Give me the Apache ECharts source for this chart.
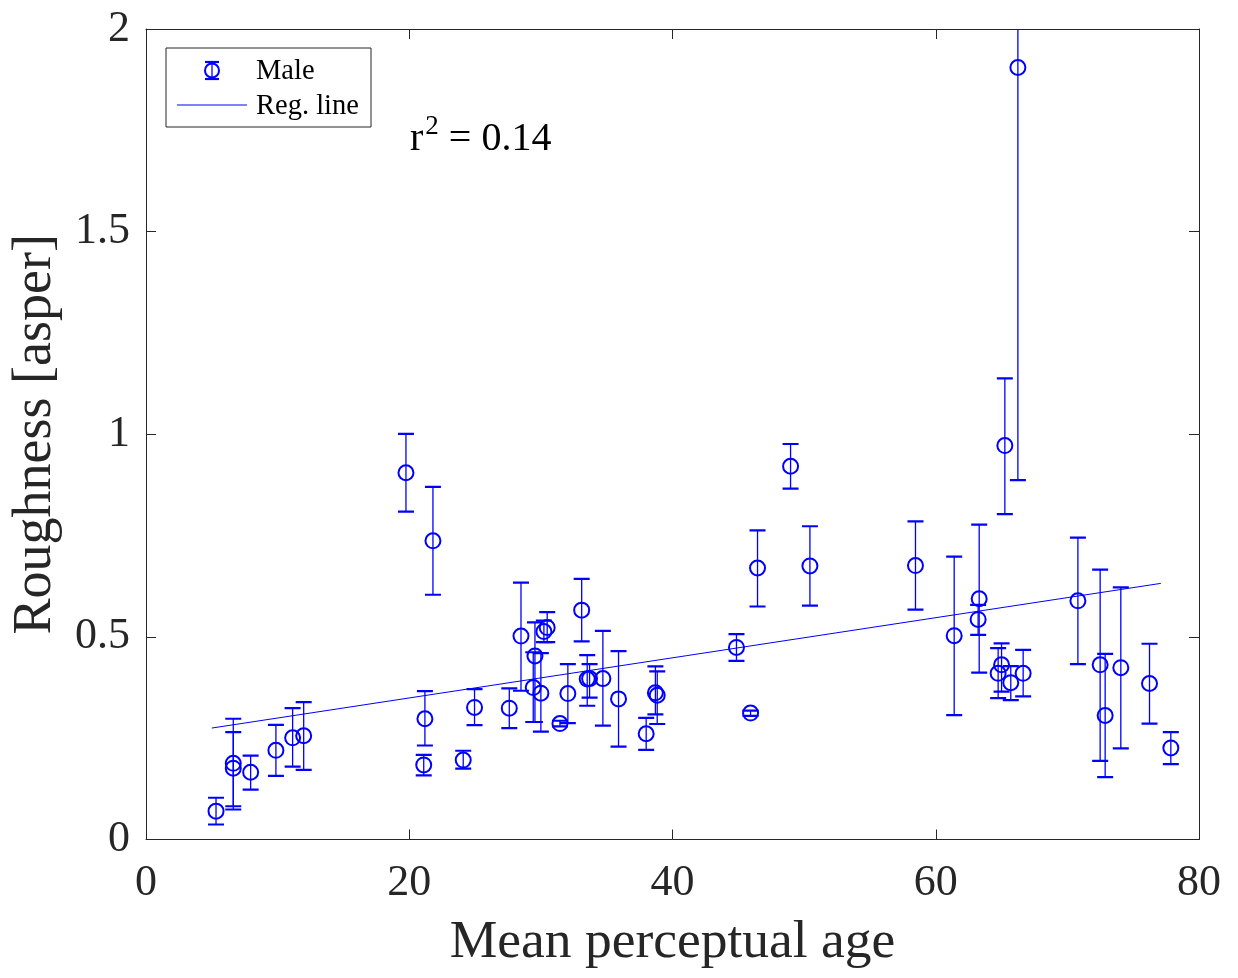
<!DOCTYPE html>
<html>
<head>
<meta charset="utf-8">
<script src="https://cdn.jsdelivr.net/npm/echarts@6/dist/echarts.min.js"></script>
<style>
  html, body { margin: 0; padding: 0; background: #fff; }
  #chart { width: 1238px; height: 978px; }
</style>
</head>
<body>
<div id="chart"></div>
<script>
// ---- data ----
var ageX = [5.32, 6.63, 6.63, 7.95, 9.87, 11.14, 11.98, 19.75, 21.80, 21.19, 21.10, 24.10, 24.96, 27.60,
  28.49, 29.55, 29.42, 30.00, 30.23, 30.48, 33.10, 32.05, 31.45, 33.52, 33.70, 34.71, 35.90, 38.00,
  38.70, 38.84, 44.86, 45.93, 46.46, 48.97, 50.44, 58.46, 61.40, 63.30, 63.22, 64.74, 65.00, 65.70,
  66.64, 65.25, 66.24, 70.80, 72.49, 72.87, 74.06, 76.24, 77.86];
var roughY = [0.070, 0.188, 0.176, 0.166, 0.220, 0.251, 0.256, 0.905, 0.737, 0.298, 0.184, 0.196, 0.326, 0.324,
  0.502, 0.453, 0.375, 0.361, 0.513, 0.523, 0.566, 0.360, 0.286, 0.396, 0.397, 0.397, 0.347, 0.261,
  0.362, 0.356, 0.474, 0.312, 0.670, 0.921, 0.675, 0.676, 0.503, 0.594, 0.543, 0.410, 0.431, 0.387,
  0.410, 0.972, 1.905, 0.589, 0.431, 0.306, 0.424, 0.385, 0.226];
var errLow = [0.037, 0.074, 0.082, 0.123, 0.157, 0.180, 0.172, 0.809, 0.604, 0.232, 0.158, 0.175, 0.282, 0.275,
  0.367, 0.290, 0.290, 0.266, 0.487, 0.487, 0.489, 0.287, 0.279, 0.330, 0.350, 0.281, 0.229, 0.221,
  0.309, 0.285, 0.441, 0.305, 0.575, 0.866, 0.577, 0.567, 0.307, 0.412, 0.505, 0.349, 0.365, 0.344,
  0.353, 0.803, 0.887, 0.433, 0.194, 0.154, 0.225, 0.286, 0.186];
var errHigh = [0.103, 0.298, 0.265, 0.207, 0.283, 0.324, 0.339, 1.001, 0.870, 0.366, 0.209, 0.219, 0.371, 0.373,
  0.634, 0.536, 0.462, 0.460, 0.540, 0.561, 0.643, 0.433, 0.293, 0.455, 0.433, 0.515, 0.465, 0.300,
  0.427, 0.415, 0.507, 0.318, 0.763, 0.976, 0.773, 0.785, 0.698, 0.777, 0.579, 0.472, 0.484, 0.428,
  0.468, 1.138, 2.923, 0.745, 0.666, 0.458, 0.622, 0.483, 0.265];
var regX = [5.0, 77.1];
var regY = [0.275, 0.632];
var xTicks = [0, 20, 40, 60, 80];
var yTicks = [0, 0.5, 1, 1.5, 2];

var BLUE = '#0000ff';
var AX = '#262626';
var FONT = '"Liberation Serif", "Times New Roman", serif';

var errData = ageX.map(function (x, i) { return [x, roughY[i], errLow[i], errHigh[i]]; });
var regData = regX.map(function (x, i) { return [x, regY[i]]; });

function renderErr(params, api) {
  var cs = params.coordSys;
  var x = api.value(0), y = api.value(1), lo = api.value(2), hi = api.value(3);
  var p = api.coord([x, y]);
  var pl = api.coord([x, lo]);
  var ph = api.coord([x, hi]);
  var topY = cs.y;
  var children = [];
  var hiY = Math.max(ph[1], topY);
  children.push({ type: 'line', shape: { x1: p[0], y1: pl[1], x2: p[0], y2: hiY },
    style: { stroke: BLUE, lineWidth: 1.3 } });
  children.push({ type: 'line', shape: { x1: p[0] - 8, y1: pl[1], x2: p[0] + 8, y2: pl[1] },
    style: { stroke: BLUE, lineWidth: 2.2 } });
  if (ph[1] >= topY) {
    children.push({ type: 'line', shape: { x1: p[0] - 8, y1: ph[1], x2: p[0] + 8, y2: ph[1] },
      style: { stroke: BLUE, lineWidth: 2.2 } });
  }
  children.push({ type: 'circle', shape: { cx: p[0], cy: p[1], r: 7.5 },
    style: { stroke: BLUE, fill: null, lineWidth: 2 } });
  return { type: 'group', children: children };
}

var chart = echarts.init(document.getElementById('chart'), null, { renderer: 'canvas' });

var axisCommon = {
  axisLine: { show: true, onZero: false, lineStyle: { color: AX, width: 1 } },
  axisTick: { show: true, inside: true, length: 10, lineStyle: { color: AX, width: 1 } },
  splitLine: { show: false }
};

chart.setOption({
  animation: false,
  backgroundColor: '#ffffff',
  grid: { left: 146, right: 39, top: 29, bottom: 138.5, containLabel: false },
  xAxis: [
    Object.assign({
      type: 'value', position: 'bottom', min: xTicks[0], max: xTicks[xTicks.length - 1], interval: 20,
      axisLabel: { fontSize: 44, fontFamily: FONT, color: AX, margin: 22 },
      name: 'Mean perceptual age', nameLocation: 'middle', nameGap: 76,
      nameTextStyle: { fontSize: 53.5, fontFamily: FONT, color: AX }
    }, axisCommon),
    Object.assign({
      type: 'value', position: 'top', min: xTicks[0], max: xTicks[xTicks.length - 1], interval: 20,
      axisLabel: { show: false }
    }, axisCommon)
  ],
  yAxis: [
    Object.assign({
      type: 'value', position: 'left', min: yTicks[0], max: yTicks[yTicks.length - 1], interval: 0.5,
      axisLabel: { fontSize: 44, fontFamily: FONT, color: AX, margin: 16 },
      name: 'Roughness [asper]', nameLocation: 'middle', nameGap: 83,
      nameTextStyle: { fontSize: 54, fontFamily: FONT, color: AX }
    }, axisCommon),
    Object.assign({
      type: 'value', position: 'right', min: yTicks[0], max: yTicks[yTicks.length - 1], interval: 0.5,
      axisLabel: { show: false }
    }, axisCommon)
  ],
  series: [
    {
      name: 'Male', type: 'custom', renderItem: renderErr, data: errData,
      encode: { x: 0, y: [1, 2, 3] }, clip: true, z: 3
    },
    {
      name: 'Reg. line', type: 'line', data: regData, showSymbol: false, symbol: 'none',
      lineStyle: { color: BLUE, width: 1 }, z: 2
    }
  ],
  graphic: [
    { type: 'rect', left: 165.5, top: 47.5, shape: { width: 205, height: 79 },
      style: { fill: '#fff', stroke: AX, lineWidth: 1 }, z: 10 },
    { type: 'group', z: 11, children: [
      { type: 'line', shape: { x1: 212, y1: 62, x2: 212, y2: 79 }, style: { stroke: BLUE, lineWidth: 1.3 }, z: 11 },
      { type: 'line', shape: { x1: 205, y1: 62, x2: 219, y2: 62 }, style: { stroke: BLUE, lineWidth: 2.2 }, z: 11 },
      { type: 'line', shape: { x1: 205, y1: 79, x2: 219, y2: 79 }, style: { stroke: BLUE, lineWidth: 2.2 }, z: 11 },
      { type: 'circle', shape: { cx: 212, cy: 70.5, r: 7 }, style: { stroke: BLUE, fill: null, lineWidth: 2 }, z: 11 },
      { type: 'line', shape: { x1: 177, y1: 105, x2: 247, y2: 105 }, style: { stroke: BLUE, lineWidth: 1 }, z: 11 },
      { type: 'text', x: 256, y: 72, style: { text: 'Male', fontSize: 28.5, fontFamily: FONT, fill: '#000', verticalAlign: 'middle' }, z: 11 },
      { type: 'text', x: 256, y: 107, style: { text: 'Reg. line', fontSize: 28.5, fontFamily: FONT, fill: '#000', verticalAlign: 'middle' }, z: 11 }
    ]},
    { type: 'text', x: 410, y: 113, z: 11,
      style: {
        text: '{a|r}{s|2}{a| = 0.14}',
        fontFamily: FONT, fill: '#000',
        rich: {
          a: { fontSize: 40, fontFamily: FONT, lineHeight: 46, verticalAlign: 'bottom' },
          s: { fontSize: 27, fontFamily: FONT, lineHeight: 46, verticalAlign: 'top', padding: [0, 0, 0, 2] }
        }
      }
    }
  ]
});
</script>
</body>
</html>
